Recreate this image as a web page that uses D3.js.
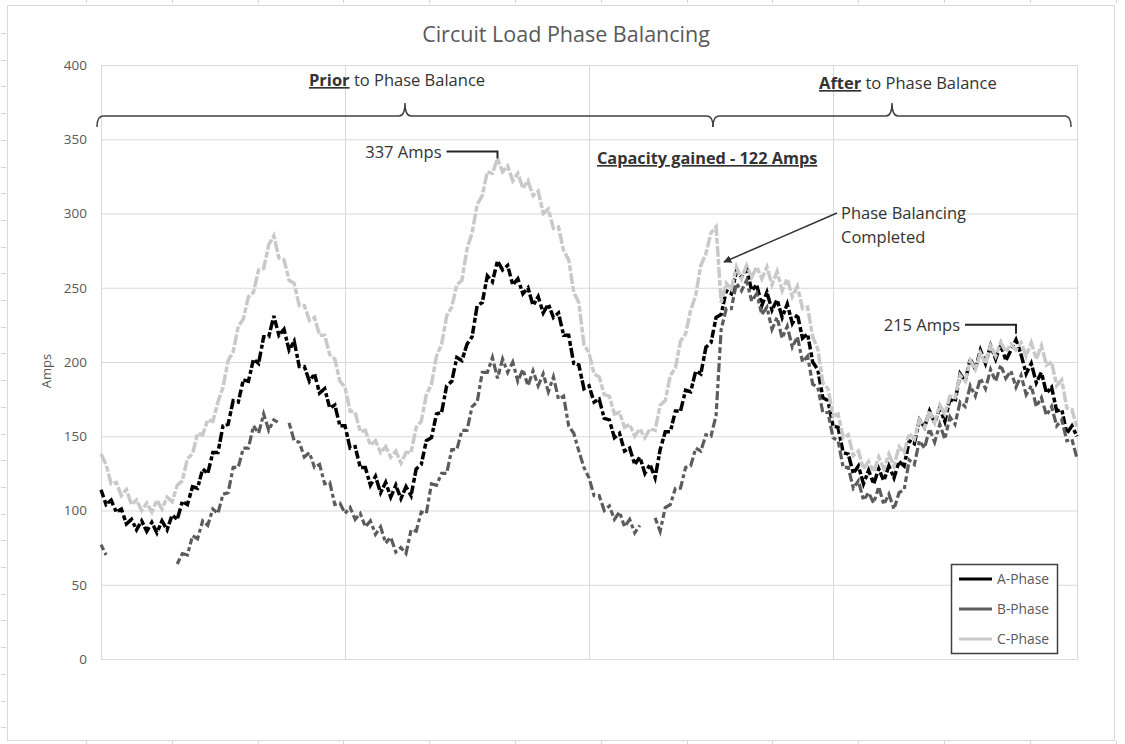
<!DOCTYPE html>
<html>
<head>
<meta charset="utf-8">
<script src="https://cdn.jsdelivr.net/npm/d3@7"></script>
<style>
  html, body { margin: 0; padding: 0; background: #ffffff; }
  svg { display: block; font-family: "Open Sans", "Noto Sans", sans-serif; }
</style>
</head>
<body>
<svg id="chart" width="1125" height="744"></svg>
<script>
// Circuit current readings, one sample every half hour over four days (hours 0..96).
const sampleStepHours = 0.5;

const aPhase = [
  114,104,107,99,101,91,94,87,93,86,92,85,93,87,97,94,106,104,116,115,
  128,125,139,139,157,158,174,173,188,187,202,199,217,217,231,218,222,208,214,197,
  197,187,192,179,182,169,171,157,157,142,143,129,129,117,123,112,119,109,117,108,
  116,110,128,131,147,149,165,166,184,187,203,201,212,217,238,240,258,254,268,262,
  265,252,256,246,250,238,244,233,239,230,233,218,218,199,198,182,184,173,175,162,
  161,149,152,140,142,131,136,125,131,122,141,153,153,167,167,181,180,194,192,210,
  213,230,232,248,246,261,257,263,248,252,238,247,235,242,230,239,226,232,216,219,
  200,195,176,174,157,156,139,138,125,130,118,127,118,128,120,130,122,133,130,147,
  145,161,156,167,159,169,160,175,173,192,187,202,195,208,199,211,202,212,201,208,
  215,205,192,199,186,193,179,183,167,168,152,157,150
];

const bPhase = [
  77,70,null,null,null,60,null,null,null,null,null,null,null,null,null,64,71,70,83,81,
  93,90,101,98,111,112,129,129,142,142,157,152,165,154,161,159,null,159,147,146,
  136,139,129,131,118,119,104,105,98,102,94,98,89,93,84,89,78,82,72,75,
  71,87,86,99,98,118,117,125,125,141,141,154,154,170,173,193,193,203,189,202,
  193,200,187,195,184,194,184,192,180,190,175,177,157,152,140,129,122,110,110,100,
  103,94,99,89,94,85,90,null,null,95,86,102,104,115,115,129,130,142,140,151,
  150,164,222,236,236,253,248,255,241,246,232,237,222,230,216,224,210,217,200,204,
  185,183,166,166,149,147,129,129,115,120,107,112,105,116,104,111,101,112,114,134,
  131,147,142,155,146,158,148,163,158,173,170,184,177,189,182,195,187,198,189,194,
  183,191,178,184,170,176,164,170,157,161,147,148,135
];

const cPhase = [
  138,131,118,119,110,114,104,107,100,105,99,107,101,109,106,117,120,135,138,152,
  151,161,160,173,183,201,207,224,229,244,247,262,263,279,285,270,269,255,253,238,
  238,228,230,218,218,205,202,187,183,167,166,153,154,144,147,139,143,136,140,132,
  139,139,156,160,178,185,204,212,231,237,252,255,276,287,306,312,328,327,337,328,
  332,322,327,317,322,312,315,300,303,290,291,275,269,247,240,212,206,192,190,178,
  177,165,166,156,158,150,155,149,155,154,171,174,191,196,214,219,235,245,265,273,
  287,291,240,253,249,264,256,265,257,264,256,264,252,261,248,256,244,251,236,237,
  217,209,186,182,164,165,149,151,137,140,128,133,126,136,128,138,130,143,139,152,
  148,161,156,167,159,171,165,177,176,191,187,201,195,206,199,211,204,213,207,212,
  208,213,204,213,202,211,198,200,184,188,169,168,156
];

const seriesNames = ["A-Phase", "B-Phase", "C-Phase"];
const yTicks = [0, 50, 100, 150, 200, 250, 300, 350, 400];
const dayBoundaries = [24, 48, 72, 96];

const peakBefore = 337;
const peakAfter = 215;

const svg = d3.select("#chart");
const plot = { left: 101, right: 1077, top: 65, bottom: 659 };

const x = d3.scaleLinear().domain([0, 96]).range([plot.left, plot.right]);
const y = d3.scaleLinear().domain([0, 400]).range([plot.bottom, plot.top]);

// Sheet edge marks and the chart frame
const edge = svg.append("g").attr("stroke", "#d4d4d4").attr("stroke-width", 1);
d3.range(33, 744, 26.7).forEach(v => {
  edge.append("line").attr("x1", 1).attr("x2", 6).attr("y1", Math.round(v) + 0.5).attr("y2", Math.round(v) + 0.5);
});
d3.range(86, 1125, 85.8).forEach(v => {
  edge.append("line").attr("x1", Math.round(v) + 0.5).attr("x2", Math.round(v) + 0.5).attr("y1", 0).attr("y2", 3);
  edge.append("line").attr("x1", Math.round(v) + 0.5).attr("x2", Math.round(v) + 0.5).attr("y1", 741).attr("y2", 744);
});
svg.append("rect")
  .attr("x", 7.5).attr("y", 5.5).attr("width", 1107).attr("height", 735)
  .attr("fill", "#ffffff").attr("stroke", "#d9d9d9").attr("stroke-width", 1);

// Title
svg.append("text")
  .attr("x", 566).attr("y", 42)
  .attr("text-anchor", "middle")
  .attr("fill", "#595959")
  .attr("font-size", 21.5)
  .text("Circuit Load Phase Balancing");

// Horizontal gridlines with value labels
const yAxis = d3.axisLeft(y).tickValues(yTicks).tickSize(-(plot.right - plot.left)).tickPadding(14);
const yG = svg.append("g").attr("transform", `translate(${plot.left},0)`).call(yAxis);
yG.select(".domain").attr("stroke", "#d9d9d9");
yG.selectAll(".tick line").attr("stroke", "#d9d9d9");
yG.selectAll(".tick text").attr("fill", "#595959").attr("font-size", 13.5).attr("font-family", "Open Sans");

// Vertical day gridlines
const xAxis = d3.axisBottom(x).tickValues(dayBoundaries).tickSize(-(plot.bottom - plot.top)).tickFormat("");
const xG = svg.append("g").attr("transform", `translate(0,${plot.bottom})`).call(xAxis);
xG.select(".domain").attr("stroke", "#d9d9d9");
xG.selectAll(".tick line").attr("stroke", "#d9d9d9");

// Axis title
svg.append("text")
  .attr("transform", "translate(51,371) rotate(-90)")
  .attr("text-anchor", "middle")
  .attr("fill", "#595959")
  .attr("font-size", 13)
  .text("Amps");

// Phase current lines
const line = d3.line()
  .defined(d => d != null)
  .x((d, i) => x(i * sampleStepHours))
  .y(d => y(d));

const styles = [
  { data: aPhase, color: "#000000", width: 3.5, dash: "8,3,5,2,10,3,4,2" },
  { data: bPhase, color: "#5c5c5c", width: 3.2, dash: "6,3,9,3,4,3" },
  { data: cPhase, color: "#c9c9c9", width: 3.5, dash: "11,2,6,2" }
];
styles.forEach(s => {
  svg.append("path")
    .datum(s.data)
    .attr("fill", "none")
    .attr("stroke", s.color)
    .attr("stroke-width", s.width)
    .attr("stroke-dasharray", s.dash)
    .attr("d", line);
});

// Annotation ink
const ink = "#333333";
const annot = svg.append("g").attr("fill", ink).attr("font-size", 16.5);

// Braces over the before / after periods
const braces = svg.append("g").attr("fill", "none").attr("stroke", "#404040").attr("stroke-width", 1.5);
function brace(x0, xm, x1, yb) {
  return `M${x0},${yb + 11} Q${x0},${yb} ${x0 + 6},${yb} L${xm - 6},${yb} Q${xm},${yb} ${xm},${yb - 13} ` +
         `Q${xm},${yb} ${xm + 6},${yb} L${x1 - 6},${yb} Q${x1},${yb} ${x1},${yb + 11}`;
}
braces.append("path").attr("d", brace(97, 405, 713, 116));
braces.append("path").attr("d", brace(713, 892, 1071, 116));

const prior = annot.append("text").attr("x", 309).attr("y", 86);
prior.append("tspan").attr("font-weight", "bold").attr("text-decoration", "underline").text("Prior");
prior.append("tspan").text(" to Phase Balance");

const after = annot.append("text").attr("x", 819).attr("y", 89);
after.append("tspan").attr("font-weight", "bold").attr("text-decoration", "underline").text("After");
after.append("tspan").text(" to Phase Balance");

annot.append("text")
  .attr("x", 597).attr("y", 164)
  .attr("font-weight", "bold")
  .attr("text-decoration", "underline")
  .attr("font-size", 16.3)
  .text(`Capacity gained - ${peakBefore - peakAfter} Amps`);

// Peak callouts
const iPeakBefore = cPhase.indexOf(peakBefore);
const iPeakAfter = aPhase.lastIndexOf(peakAfter);
const callouts = svg.append("g").attr("fill", "none").attr("stroke", "#262626").attr("stroke-width", 2);
const pbX = x(iPeakBefore * sampleStepHours), pbY = y(peakBefore);
callouts.append("path").attr("d", `M${pbX - 51},${pbY - 7} H${pbX} V${pbY}`);
annot.append("text").attr("x", pbX - 56).attr("y", pbY - 1).attr("text-anchor", "end").text(`${peakBefore} Amps`);

const paX = x(iPeakAfter * sampleStepHours), paY = y(peakAfter);
callouts.append("path").attr("d", `M${paX - 51},${paY - 15} H${paX} V${paY - 6}`);
annot.append("text").attr("x", paX - 56).attr("y", paY - 9).attr("text-anchor", "end").text(`${peakAfter} Amps`);

// Balancing event arrow
svg.append("defs").append("marker")
  .attr("id", "arrowHead")
  .attr("viewBox", "0 0 10 10")
  .attr("refX", 9).attr("refY", 5)
  .attr("markerWidth", 8).attr("markerHeight", 8)
  .attr("markerUnits", "userSpaceOnUse")
  .attr("orient", "auto")
  .append("path").attr("d", "M0,0 L10,5 L0,10 Z").attr("fill", "#333333");
svg.append("line")
  .attr("x1", 837).attr("y1", 213).attr("x2", 724).attr("y2", 262)
  .attr("stroke", "#333333").attr("stroke-width", 1.5)
  .attr("marker-end", "url(#arrowHead)");
annot.append("text").attr("x", 841).attr("y", 219).text("Phase Balancing");
annot.append("text").attr("x", 841).attr("y", 243).text("Completed");

// Legend
const legend = svg.append("g");
legend.append("rect")
  .attr("x", 951.5).attr("y", 564.5).attr("width", 106).attr("height", 89)
  .attr("fill", "#ffffff").attr("stroke", "#404040").attr("stroke-width", 1.5);
seriesNames.forEach((name, k) => {
  const ly = 579 + k * 30;
  legend.append("line")
    .attr("x1", 959).attr("x2", 992).attr("y1", ly).attr("y2", ly)
    .attr("stroke", styles[k].color).attr("stroke-width", 3);
  legend.append("text")
    .attr("x", 997).attr("y", ly + 5)
    .attr("fill", "#595959").attr("font-size", 15)
    .attr("textLength", 52).attr("lengthAdjust", "spacingAndGlyphs")
    .text(name);
});
</script>
</body>
</html>
